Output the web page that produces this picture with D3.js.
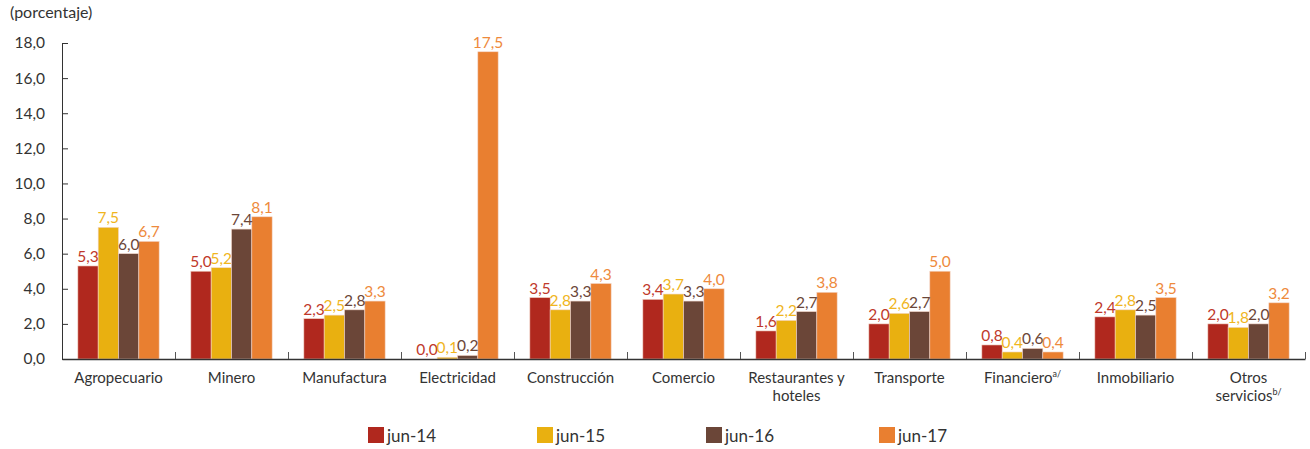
<!DOCTYPE html>
<html><head><meta charset="utf-8">
<script src="https://cdn.jsdelivr.net/npm/d3@7"></script>
<style>body{margin:0;background:#fff;} text{font-family:Lato,"Open Sans",sans-serif;}</style>
</head><body><svg id="c" width="1310" height="449"></svg>
<script>
const categories = [["Agropecuario"],["Minero"],["Manufactura"],["Electricidad"],["Construcción"],["Comercio"],["Restaurantes y","hoteles"],["Transporte"],["Financiero"],["Inmobiliario"],["Otros","servicios"]];
const superscripts = ["","","","","","","","","a/","","b/"];
const seriesNames = ["jun-14","jun-15","jun-16","jun-17"];
const jun14 = [5.3,5.0,2.3,0.0,3.5,3.4,1.6,2.0,0.8,2.4,2.0];
const jun15 = [7.5,5.2,2.5,0.1,2.8,3.7,2.2,2.6,0.4,2.8,1.8];
const jun16 = [6.0,7.4,2.8,0.2,3.3,3.3,2.7,2.7,0.6,2.5,2.0];
const jun17 = [6.7,8.1,3.3,17.5,4.3,4.0,3.8,5.0,0.4,3.5,3.2];
const yTicks = [0,2,4,6,8,10,12,14,16,18];
const colors = ["#B0281E","#E9B010","#6B4638","#E97F30"];
const labelColors = ["#C0392B","#F0B51E","#6B4638","#EE8A3C"];
const series = [jun14,jun15,jun16,jun17];

const svg = d3.select("#c");
const pL=62, pR=1305, pT=43, pB=359;
const x0 = d3.scaleBand().domain(d3.range(categories.length)).range([pL,pR]).paddingInner(0).paddingOuter(0);
const x1 = d3.scaleBand().domain(d3.range(4)).range([0,x0.bandwidth()]).paddingInner(0).paddingOuter(0.78);
const y = d3.scaleLinear().domain([0,18]).range([pB,pT]);
const fmt = v => d3.format(".1f")(v).replace(".",",");

svg.append("text").attr("x",10).attr("y",18).attr("font-size",16).attr("fill","#333").text("(porcentaje)");

categories.forEach((c,i)=>{
  const g = svg.append("g").attr("transform",`translate(${x0(i)},0)`);
  series.forEach((s,j)=>{
    g.append("rect").attr("x",x1(j)).attr("width",x1.bandwidth()).attr("y",y(s[i])).attr("height",Math.max(0,y(0)-y(s[i])))
      .attr("fill",colors[j]).attr("stroke","#f3d6c8").attr("stroke-width",0.6);
  });
  series.forEach((s,j)=>{
    g.append("text").attr("x",x1(j)+x1.bandwidth()/2).attr("y",y(s[i])-4).attr("text-anchor","middle")
      .attr("font-size",15.5).attr("fill",labelColors[j]).text(fmt(s[i]));
  });
});

const ya = d3.axisLeft(y).tickValues(yTicks).tickFormat(fmt).tickSizeInner(-6).tickSizeOuter(0).tickPadding(17);
const yg = svg.append("g").attr("transform",`translate(${pL},0)`).call(ya);
yg.selectAll("text").attr("font-size",15.5).attr("fill","#333").attr("font-family","Lato,'Open Sans',sans-serif");
yg.selectAll("line,path").attr("stroke","#333");

const xa = d3.axisBottom(d3.scaleLinear().domain([0,categories.length]).range([pL,pR])).tickValues(d3.range(1,categories.length+1)).tickSizeInner(-7).tickSizeOuter(0).tickFormat("");
const xg = svg.append("g").attr("transform",`translate(0,${pB})`).call(xa);
xg.selectAll("line").attr("stroke","#555");
xg.select(".domain").attr("stroke","#333").attr("stroke-width",1.5);

categories.forEach((c,i)=>{
  const cx = x0(i)+x0.bandwidth()/2;
  const t = svg.append("text").attr("x",cx).attr("y",383).attr("text-anchor","middle").attr("font-size",15).attr("fill","#333");
  c.forEach((line,k)=>{
    const ts = t.append("tspan").attr("x",cx).attr("dy",k===0?0:18).text(line);
    if(k===c.length-1 && superscripts[i]) ts.append("tspan").attr("font-size",9).attr("dy",-6).text(superscripts[i]);
  });
});

const legX = [368,537,706,879];
seriesNames.forEach((n,j)=>{
  svg.append("rect").attr("x",legX[j]).attr("y",427).attr("width",16).attr("height",16).attr("fill",colors[j]);
  svg.append("text").attr("x",legX[j]+19).attr("y",442).attr("font-size",17).attr("fill","#333").text(n);
});
</script></body></html>
